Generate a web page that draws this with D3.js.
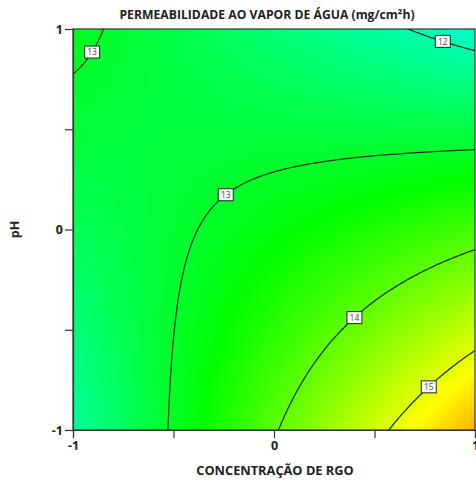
<!DOCTYPE html>
<html>
<head>
<meta charset="utf-8">
<script src="https://cdn.jsdelivr.net/npm/d3@7"></script>
<style>
  html, body { margin: 0; padding: 0; background: #fff; }
  svg { display: block; }
  text { font-family: "Open Sans", "Noto Sans", sans-serif; }
</style>
</head>
<body>
<svg id="chart" width="476" height="484"></svg>
<script>
// Quadratic response-surface model: terms and fitted coefficients (coded units)
const terms = ["intercept", "A", "B", "AB", "A^2", "B^2"];
const coefficients = [13.22, 0.58, -0.76, -1.24, 0.0, -0.02];

// Contour levels drawn on the surface
const levels = [12, 13, 13, 14, 15];
// Where each contour label sits: fixed coordinate along the given axis (coded units)
const labelAxis = ["x", "y", "x", "x", "x"];
const labelCoord = [0.84, 0.885, -0.24, 0.40, 0.77];
const labelSide = [1, -1, -1, 1, 1];

const xTicks = [-1, -0.5, 0, 0.5, 1];
const yTicks = [-1, -0.5, 0, 0.5, 1];
const labeledTicks = [-1, 0, 1];

// Colour stops of the response scale: blue → cyan → green → yellow → red
const colorDomain = [9.5, 11.4, 13.3, 15.2, 17.1];
const colorRange = ["#0000ff", "#00ffff", "#00ff00", "#ffff00", "#ff0000"];

const titleText = "PERMEABILIDADE AO VAPOR DE ÁGUA (mg/cm²h)";
const xTitle = "CONCENTRAÇÃO DE RGO";
const yTitle = "pH";

(function draw() {
  function model(a, b) {
    const c = coefficients;
    return c[0] + c[1] * a + c[2] * b + c[3] * a * b + c[4] * a * a + c[5] * b * b;
  }

  const svg = d3.select("#chart");
  const mLeft = 73, mRight = 475, mTop = 29, mBottom = 430;
  const x = d3.scaleLinear().domain([-1, 1]).range([mLeft, mRight]);
  const y = d3.scaleLinear().domain([-1, 1]).range([mBottom, mTop]);
  const color = d3.scaleLinear().domain(colorDomain).range(colorRange).clamp(true);

  // Filled surface, one pixel per cell
  const pw = mRight - mLeft, ph = mBottom - mTop;
  const canvas = document.createElement("canvas");
  canvas.width = pw; canvas.height = ph;
  const ctx = canvas.getContext("2d");
  const img = ctx.createImageData(pw, ph);
  for (let j = 0; j < ph; j++) {
    const b = y.invert(mTop + j + 0.5);
    for (let i = 0; i < pw; i++) {
      const a = x.invert(mLeft + i + 0.5);
      const c = d3.rgb(color(model(a, b)));
      const k = (j * pw + i) * 4;
      img.data[k] = c.r; img.data[k + 1] = c.g; img.data[k + 2] = c.b; img.data[k + 3] = 255;
    }
  }
  ctx.putImageData(img, 0, 0);
  svg.append("image")
    .attr("x", mLeft).attr("y", mTop)
    .attr("width", pw).attr("height", ph)
    .attr("href", canvas.toDataURL());

  // Contour lines: grid extends past the frame so ring edges fall outside the clip
  svg.append("clipPath").attr("id", "plotClip")
    .append("rect").attr("x", mLeft).attr("y", mTop).attr("width", pw).attr("height", ph);

  const n = 260, ext = 1.06;
  const gx = d3.scaleLinear().domain([0, n - 1]).range([-ext, ext]);
  const gy = d3.scaleLinear().domain([0, n - 1]).range([ext, -ext]);
  const values = new Array(n * n);
  for (let j = 0; j < n; j++)
    for (let i = 0; i < n; i++) values[j * n + i] = model(gx(i), gy(j));

  const uniqueLevels = Array.from(new Set(levels));
  const contours = d3.contours().size([n, n]).thresholds(uniqueLevels)(values);
  const px = d3.scaleLinear().domain([0, n - 1]).range([x(-ext), x(ext)]);
  const py = d3.scaleLinear().domain([0, n - 1]).range([y(ext), y(-ext)]);
  const path = d3.geoPath(d3.geoTransform({
    point(a, b) { this.stream.point(px(a - 0.5), py(b - 0.5)); }
  }));

  svg.append("g").attr("clip-path", "url(#plotClip)")
    .selectAll("path").data(contours).join("path")
    .attr("d", path)
    .attr("fill", "none")
    .attr("stroke", "#1a301a")
    .attr("stroke-width", 1.25);

  // Contour labels placed on their curves by bisection along the chosen axis
  function solve(level, axis, coord, side) {
    let lo = -1.2, hi = 1.2;
    const g = t => axis === "x" ? model(coord, t) - level : model(t, coord) - level;
    if (axis === "y" && side < 0) { lo = -1.2; hi = 0; }
    let flo = g(lo);
    for (let it = 0; it < 60; it++) {
      const mid = (lo + hi) / 2, fm = g(mid);
      if ((fm > 0) === (flo > 0)) { lo = mid; flo = fm; } else hi = mid;
    }
    const t = (lo + hi) / 2;
    return axis === "x" ? [coord, t] : [t, coord];
  }

  const lab = svg.append("g");
  levels.forEach((lv, i) => {
    const [a, b] = solve(lv, labelAxis[i], labelCoord[i], labelSide[i]);
    const g = lab.append("g").attr("transform", `translate(${x(a)},${y(b)})`);
    g.append("rect").attr("x", -7.5).attr("y", -6).attr("width", 15).attr("height", 12)
      .attr("fill", "#fff").attr("stroke", "#2a3a2a").attr("stroke-width", 1.1);
    g.append("text").attr("text-anchor", "middle").attr("dy", "0.36em")
      .attr("font-size", 8.5).attr("fill", "#444").text(lv);
  });

  // Frame
  svg.append("rect").attr("x", mLeft).attr("y", mTop).attr("width", pw).attr("height", ph)
    .attr("fill", "none").attr("stroke", "#2a3a2a").attr("stroke-width", 1.2);

  // Axes
  const fmt = d => labeledTicks.includes(d) ? String(d) : "";
  const xAxis = svg.append("g").attr("transform", `translate(0,${mBottom})`)
    .call(d3.axisBottom(x).tickValues(xTicks).tickFormat(fmt).tickSize(8).tickPadding(3));
  const yAxis = svg.append("g").attr("transform", `translate(${mLeft},0)`)
    .call(d3.axisLeft(y).tickValues(yTicks).tickFormat(fmt).tickSize(8).tickPadding(2));
  [xAxis, yAxis].forEach(ax => {
    ax.select(".domain").attr("stroke", "#2a3a2a").attr("stroke-width", 1.2);
    ax.selectAll(".tick line").attr("stroke", "#333").attr("stroke-width", 1.2);
    ax.selectAll(".tick text").attr("font-size", 12.5).attr("font-weight", "bold")
      .attr("fill", "#222").attr("font-family", "'Open Sans', sans-serif");
  });

  // Titles
  svg.append("text").attr("x", 267).attr("y", 19).attr("text-anchor", "middle")
    .attr("font-size", 12.2).attr("font-weight", "bold").attr("fill", "#222").text(titleText);
  svg.append("text").attr("x", 275).attr("y", 475).attr("text-anchor", "middle")
    .attr("font-size", 12.8).attr("font-weight", "bold").attr("fill", "#222").text(xTitle);
  svg.append("text").attr("transform", `translate(19,${y(0)}) rotate(-90)`)
    .attr("text-anchor", "middle").attr("font-size", 12.5).attr("font-weight", "bold")
    .attr("fill", "#222").text(yTitle);
})();
</script>
</body>
</html>
